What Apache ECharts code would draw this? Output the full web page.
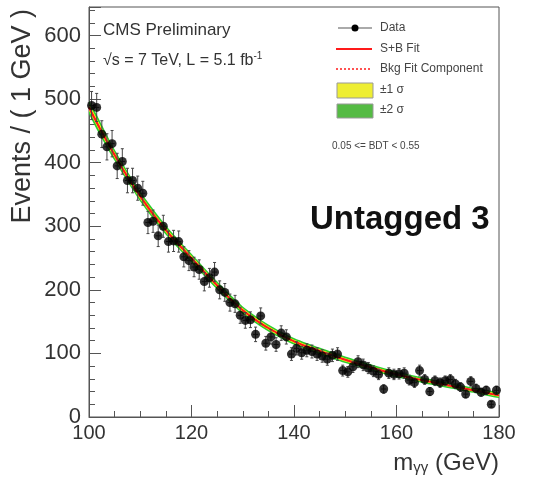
<!DOCTYPE html>
<html>
<head>
<meta charset="utf-8">
<script src="https://cdn.jsdelivr.net/npm/echarts@6/dist/echarts.min.js"></script>
<style>
  html, body { margin: 0; padding: 0; background: #fff; }
  #main { width: 544px; height: 483px; }
</style>
</head>
<body>
<div id="main"></div>
<script>
// bin centres (1 GeV bins) and observed events
var massBins = [
  100.5, 101.5, 102.5, 103.5, 104.5, 105.5, 106.5, 107.5, 108.5, 109.5,
  110.5, 111.5, 112.5, 113.5, 114.5, 115.5, 116.5, 117.5, 118.5, 119.5,
  120.5, 121.5, 122.5, 123.5, 124.5, 125.5, 126.5, 127.5, 128.5, 129.5,
  130.5, 131.5, 132.5, 133.5, 134.5, 135.5, 136.5, 137.5, 138.5, 139.5,
  140.5, 141.5, 142.5, 143.5, 144.5, 145.5, 146.5, 147.5, 148.5, 149.5,
  150.5, 151.5, 152.5, 153.5, 154.5, 155.5, 156.5, 157.5, 158.5, 159.5,
  160.5, 161.5, 162.5, 163.5, 164.5, 165.5, 166.5, 167.5, 168.5, 169.5,
  170.5, 171.5, 172.5, 173.5, 174.5, 175.5, 176.5, 177.5, 178.5, 179.5
];
var events = [
  490, 487, 445, 425, 430, 395, 402, 372, 372, 360,
  352, 306, 308, 285, 300, 276, 277, 276, 252, 246,
  236, 232, 213, 219, 228, 200, 196, 180, 178, 160,
  152, 153, 130, 159, 116, 126, 114, 132, 126, 99,
  108, 101, 105, 103, 99, 96, 91, 97, 99, 73,
  71, 79, 87, 82, 77, 72, 67, 44, 69, 67,
  68, 69, 58, 54, 73, 59, 40, 57, 54, 57,
  59, 52, 47, 36, 56, 45, 39, 42, 20, 42
];

// fit curve every 5 GeV, with band half-widths
var fitMass = [100, 105, 110, 115, 120, 125, 130, 135, 140, 145, 150, 155, 160, 165, 170, 175, 180];
var fitValue = [487, 412, 347, 294, 250, 207, 168, 140, 119, 104, 90, 78, 67, 58, 50, 42, 34];
var sigma1 = [5, 4.5, 4, 3.7, 3.5, 3.2, 3, 2.8, 2.7, 2.6, 2.5, 2.4, 2.3, 2.2, 2.1, 2, 2];
var sigma2 = [10, 9, 8, 7.4, 7, 6.4, 6, 5.6, 5.4, 5.2, 5, 4.8, 4.6, 4.4, 4.2, 4, 4];

var xTicks = [100, 120, 140, 160, 180];
var yTicks = [0, 100, 200, 300, 400, 500, 600];

var FONT = 'Liberation Sans, Arial, Helvetica, sans-serif';
var RED = '#ff1a1a';
var GREEN = '#2ecc2e';
var YELLOW = '#ffff1a';

var pts = massBins.map(function (m, i) { return [m, events[i]]; });
var fitPts = fitMass.map(function (m, i) { return [m, fitValue[i]]; });

// band drawn as one polygon: upper edge left->right, lower edge right->left
function bandRenderer(half, color) {
  return function (params, api) {
    var up = fitMass.map(function (m, i) { return api.coord([m, fitValue[i] + half[i]]); });
    var dn = fitMass.map(function (m, i) { return api.coord([m, fitValue[i] - half[i]]); }).reverse();
    return {
      type: 'polygon',
      shape: { points: up.concat(dn), smooth: 0.25 },
      style: { fill: color }
    };
  };
}

function renderErr(params, api) {
  var x = api.value(0), y = api.value(1), e = Math.sqrt(y);
  var top = api.coord([x, y + e]);
  var bot = api.coord([x, y - e]);
  var l = api.coord([x - 0.5, y]);
  var r = api.coord([x + 0.5, y]);
  var st = { stroke: '#444', lineWidth: 1 };
  return {
    type: 'group',
    children: [
      { type: 'line', shape: { x1: top[0], y1: top[1], x2: bot[0], y2: bot[1] }, style: st },
      { type: 'line', shape: { x1: l[0], y1: l[1], x2: r[0], y2: r[1] }, style: st },
      { type: 'line', shape: { x1: top[0] - 1.5, y1: top[1], x2: top[0] + 1.5, y2: top[1] }, style: st },
      { type: 'line', shape: { x1: bot[0] - 1.5, y1: bot[1], x2: bot[0] + 1.5, y2: bot[1] }, style: st }
    ]
  };
}

var chart = echarts.init(document.getElementById('main'));

var axisLine = { lineStyle: { color: '#555', width: 1 } };

chart.setOption({
  animation: false,
  backgroundColor: '#fff',
  grid: { left: 89, right: 45, top: 7, bottom: 66, show: true, borderColor: '#555', borderWidth: 1 },
  xAxis: {
    type: 'value', min: 100, max: 180, interval: 20,
    axisLine: axisLine,
    axisTick: { inside: true, length: 12, lineStyle: { color: '#555' } },
    minorTick: { show: true, splitNumber: 4, length: 6, lineStyle: { color: '#555' } },
    splitLine: { show: false },
    axisLabel: {
      fontFamily: FONT, fontSize: 20, color: '#333', margin: 6,
      formatter: function (v) { return xTicks.indexOf(v) >= 0 ? String(v) : ''; }
    }
  },
  yAxis: {
    type: 'value', min: 0, max: 645, interval: 100,
    axisLine: axisLine,
    axisTick: { inside: true, length: 12, lineStyle: { color: '#555' } },
    minorTick: { show: true, splitNumber: 5, length: 6, lineStyle: { color: '#555' } },
    splitLine: { show: false },
    axisLabel: {
      fontFamily: FONT, fontSize: 22, color: '#333', margin: 8, showMaxLabel: false,
      formatter: function (v) { return yTicks.indexOf(v) >= 0 ? String(v) : ''; }
    }
  },
  series: [
    {
      name: '±2 σ', type: 'custom', data: [[100, 0]], renderItem: bandRenderer(sigma2, GREEN),
      silent: true, z: 1, clip: true
    },
    {
      name: '±1 σ', type: 'custom', data: [[100, 0]], renderItem: bandRenderer(sigma1, YELLOW),
      silent: true, z: 2, clip: true
    },
    {
      name: 'S+B Fit', type: 'line', data: fitPts, smooth: true, symbol: 'none',
      lineStyle: { color: RED, width: 2 }, z: 3
    },
    {
      name: 'Bkg Fit Component', type: 'line', data: fitPts, smooth: true, symbol: 'none',
      lineStyle: { color: RED, width: 1.5, type: [2, 2] }, z: 3
    },
    {
      name: 'errors', type: 'custom', data: pts, renderItem: renderErr, z: 4, silent: true
    },
    {
      name: 'Data', type: 'scatter', data: pts, symbol: 'circle', symbolSize: 9,
      itemStyle: { color: '#000' }, z: 5
    }
  ],
  graphic: [
    {
      type: 'text', x: 9, y: 9, rotation: Math.PI / 2,
      style: { text: 'Events / ( 1 GeV )', font: '27px ' + FONT, fill: '#333', textAlign: 'right', textVerticalAlign: 'top' }
    },
    {
      type: 'text', x: 499, y: 450,
      style: {
        text: '{m|m}{s|γγ}{m| (GeV)}', textAlign: 'right', fill: '#333',
        rich: {
          m: { fontFamily: FONT, fontSize: 24, color: '#333', verticalAlign: 'bottom' },
          s: { fontFamily: FONT, fontSize: 15, color: '#333', padding: [10, 0, 0, 0], verticalAlign: 'bottom' }
        }
      }
    },
    {
      type: 'text', x: 103, y: 22,
      style: { text: 'CMS Preliminary', font: '17px ' + FONT, fill: '#333' }
    },
    {
      type: 'text', x: 103, y: 51,
      style: {
        text: '{a|√s = 7 TeV, L = 5.1 fb}{b|-1}', fill: '#333',
        rich: {
          a: { fontFamily: FONT, fontSize: 16, color: '#333' },
          b: { fontFamily: FONT, fontSize: 10, color: '#333', padding: [0, 0, 10, 0] }
        }
      }
    },
    // legend
    { type: 'line', shape: { x1: 338, y1: 28, x2: 372, y2: 28 }, style: { stroke: '#aaa', lineWidth: 2 } },
    { type: 'circle', shape: { cx: 355, cy: 28, r: 3.5 }, style: { fill: '#000' } },
    { type: 'text', x: 380, y: 28, style: { text: 'Data', font: '12px ' + FONT, fill: '#444', textVerticalAlign: 'middle' } },
    { type: 'line', shape: { x1: 336, y1: 49, x2: 372, y2: 49 }, style: { stroke: RED, lineWidth: 2 } },
    { type: 'text', x: 380, y: 49, style: { text: 'S+B Fit', font: '12px ' + FONT, fill: '#444', textVerticalAlign: 'middle' } },
    { type: 'line', shape: { x1: 336, y1: 69, x2: 372, y2: 69 }, style: { stroke: RED, lineWidth: 1.5, lineDash: [2, 2] } },
    { type: 'text', x: 380, y: 69, style: { text: 'Bkg Fit Component', font: '12px ' + FONT, fill: '#444', textVerticalAlign: 'middle' } },
    { type: 'rect', shape: { x: 337, y: 83, width: 36, height: 15 }, style: { fill: '#eeee33', stroke: '#999', lineWidth: 1 } },
    { type: 'text', x: 380, y: 90, style: { text: '±1 σ', font: '12px ' + FONT, fill: '#444', textVerticalAlign: 'middle' } },
    { type: 'rect', shape: { x: 337, y: 104, width: 36, height: 14 }, style: { fill: '#55bb44', stroke: '#999', lineWidth: 1 } },
    { type: 'text', x: 380, y: 110, style: { text: '±2 σ', font: '12px ' + FONT, fill: '#444', textVerticalAlign: 'middle' } },
    { type: 'text', x: 332, y: 146, style: { text: '0.05 <= BDT < 0.55', font: '10px ' + FONT, fill: '#444', textVerticalAlign: 'middle' } },
    {
      type: 'text', x: 310, y: 220,
      style: { text: 'Untagged 3', font: 'bold 33px ' + FONT, fill: '#111', textVerticalAlign: 'middle' }
    }
  ]
});
</script>
</body>
</html>
